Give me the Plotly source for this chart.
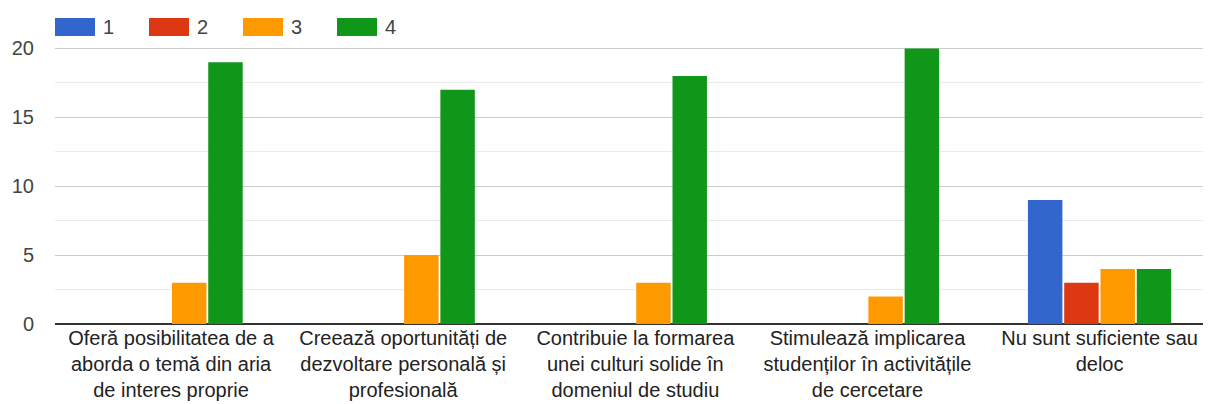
import plotly.graph_objects as go

categories = [
    "Oferă posibilitatea de a<br>aborda o temă din aria<br>de interes proprie",
    "Creează oportunități de<br>dezvoltare personală și<br>profesională",
    "Contribuie la formarea<br>unei culturi solide în<br>domeniul de studiu",
    "Stimulează implicarea<br>studenților în activitățile<br>de cercetare",
    "Nu sunt suficiente sau<br>deloc",
]
series_names = ["1", "2", "3", "4"]
s1 = [0, 0, 0, 0, 9]
s2 = [0, 0, 0, 0, 3]
s3 = [3, 5, 3, 2, 4]
s4 = [19, 17, 18, 20, 4]
colors = ["#3366cc", "#dc3912", "#ff9900", "#109618"]

FONT = "Arial, Liberation Sans, sans-serif"

fig = go.Figure()
for name, vals, c in zip(series_names, [s1, s2, s3, s4], colors):
    fig.add_trace(go.Bar(x=categories, y=vals, name=name, marker=dict(color=c, line=dict(width=0)),
                         showlegend=False))

# page body has an 8px margin, so the figure is offset by 8px in the viewport
W, H = 1203, 396
ml, mr, mt, mb = 47, 0, 6, 80
PW, PH = W - ml - mr, H - mt - mb
shapes = []
annotations = []
for i, (name, c) in enumerate(zip(series_names, colors)):
    x0 = 47 + 94 * i
    shapes.append(dict(type="rect", xref="paper", yref="paper",
                       x0=(x0 - ml) / PW, x1=(x0 + 40 - ml) / PW,
                       y0=1 + (mt - 28) / PH, y1=1 + (mt - 10) / PH,
                       fillcolor=c, line=dict(width=0)))
    annotations.append(dict(xref="paper", yref="paper", x=(x0 + 46 - ml) / PW,
                            y=1 + (mt - 19) / PH, text=name, showarrow=False,
                            xanchor="left", yanchor="middle",
                            font=dict(size=20, color="#444444", family=FONT)))

fig.update_layout(
    width=W, height=H,
    margin=dict(l=ml, r=mr, t=mt, b=mb, autoexpand=False),
    plot_bgcolor="white", paper_bgcolor="white",
    barmode="group", bargap=0.375, bargroupgap=0.05,
    font=dict(family=FONT, size=20, color="#222222"),
    shapes=shapes, annotations=annotations,
    xaxis=dict(showgrid=False, tickfont=dict(size=20, color="#222222"), ticks="", showline=False,
               automargin=False, range=[-0.5, 4.48]),
    yaxis=dict(range=[0, 22.5], dtick=5, tick0=0, showgrid=True, gridcolor="#cccccc", gridwidth=1,
               zeroline=True, zerolinecolor="#333333", zerolinewidth=2, automargin=False,
               tickfont=dict(size=20, color="#444444"), ticks="", ticklabelstandoff=20,
               minor=dict(dtick=2.5, tick0=0, showgrid=True, gridcolor="#ebebeb", gridwidth=1)),
)
fig.write_html("out.html")
